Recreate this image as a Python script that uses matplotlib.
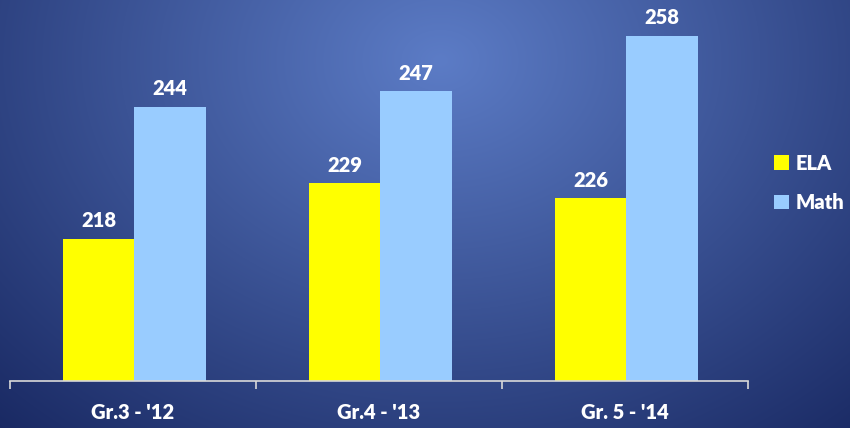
import numpy as np
import matplotlib
matplotlib.use("Agg")
import matplotlib.pyplot as plt

# chart data
categories = ["Gr.3 - '12", "Gr.4 - '13", "Gr. 5 - '14"]
ela = [218, 229, 226]
math_scores = [244, 247, 258]
series_names = ["ELA", "Math"]

plt.rcParams['font.family'] = ['Lato', 'DejaVu Sans']

fig = plt.figure(figsize=(8.5, 4.28), dpi=100)

# radial blue gradient background
bg = fig.add_axes([0, 0, 1, 1])
h, w = 428, 850
yy, xx = np.mgrid[0:h, 0:w]
d = np.sqrt(((xx - 440) / 640.0) ** 2 + ((yy - 60) / 500.0) ** 2)
d = np.clip(d, 0, 1)
inner = np.array([92, 124, 198]) / 255.0
outer = np.array([26, 42, 100]) / 255.0
img = inner[None, None, :] * (1 - d[..., None]) + outer[None, None, :] * d[..., None]
bg.imshow(img, aspect='auto', extent=[0, 1, 0, 1])
bg.axis('off')

ax = fig.add_axes([10 / 850, 47 / 428, 738 / 850, 381 / 428])
ax.patch.set_alpha(0)

x = np.arange(len(categories))
width = 0.29
b1 = ax.bar(x - width / 2 + 0.005, ela, width, color='#ffff00', label=series_names[0])
b2 = ax.bar(x + width / 2 + 0.005, math_scores, width, color='#99ccff', label=series_names[1])

ax.set_xlim(-0.5, 2.5)
ax.set_ylim(190, 265)

for bars in (b1, b2):
    for r in bars:
        ax.annotate(str(int(r.get_height())), (r.get_x() + r.get_width() / 2, r.get_height()),
                    xytext=(0, 6), textcoords='offset points', ha='center', va='bottom',
                    color='white', fontsize=14.5, fontweight='heavy')

for s in ['top', 'right', 'left']:
    ax.spines[s].set_visible(False)
ax.spines['bottom'].set_color('#d9d9d9')
ax.spines['bottom'].set_linewidth(1.2)
ax.set_yticks([])

ax.set_xticks([-0.5, 0.5, 1.5, 2.5])
ax.set_xticklabels([])
ax.tick_params(axis='x', which='major', direction='out', length=6, color='#d9d9d9', width=1.2)
ax.set_xticks(x, minor=True)
ax.set_xticklabels(categories, minor=True, color='white', fontsize=14.5, fontweight='heavy')
ax.tick_params(axis='x', which='minor', length=0, pad=16)

leg = ax.legend(loc='center left', bbox_to_anchor=(1.01, 0.52), frameon=False,
                handlelength=0.75, handleheight=0.75, handletextpad=0.35, labelspacing=1.0,
                prop={'size': 14.5, 'weight': 'heavy'})
for t in leg.get_texts():
    t.set_color('white')

fig.savefig('out.png', dpi=100)
